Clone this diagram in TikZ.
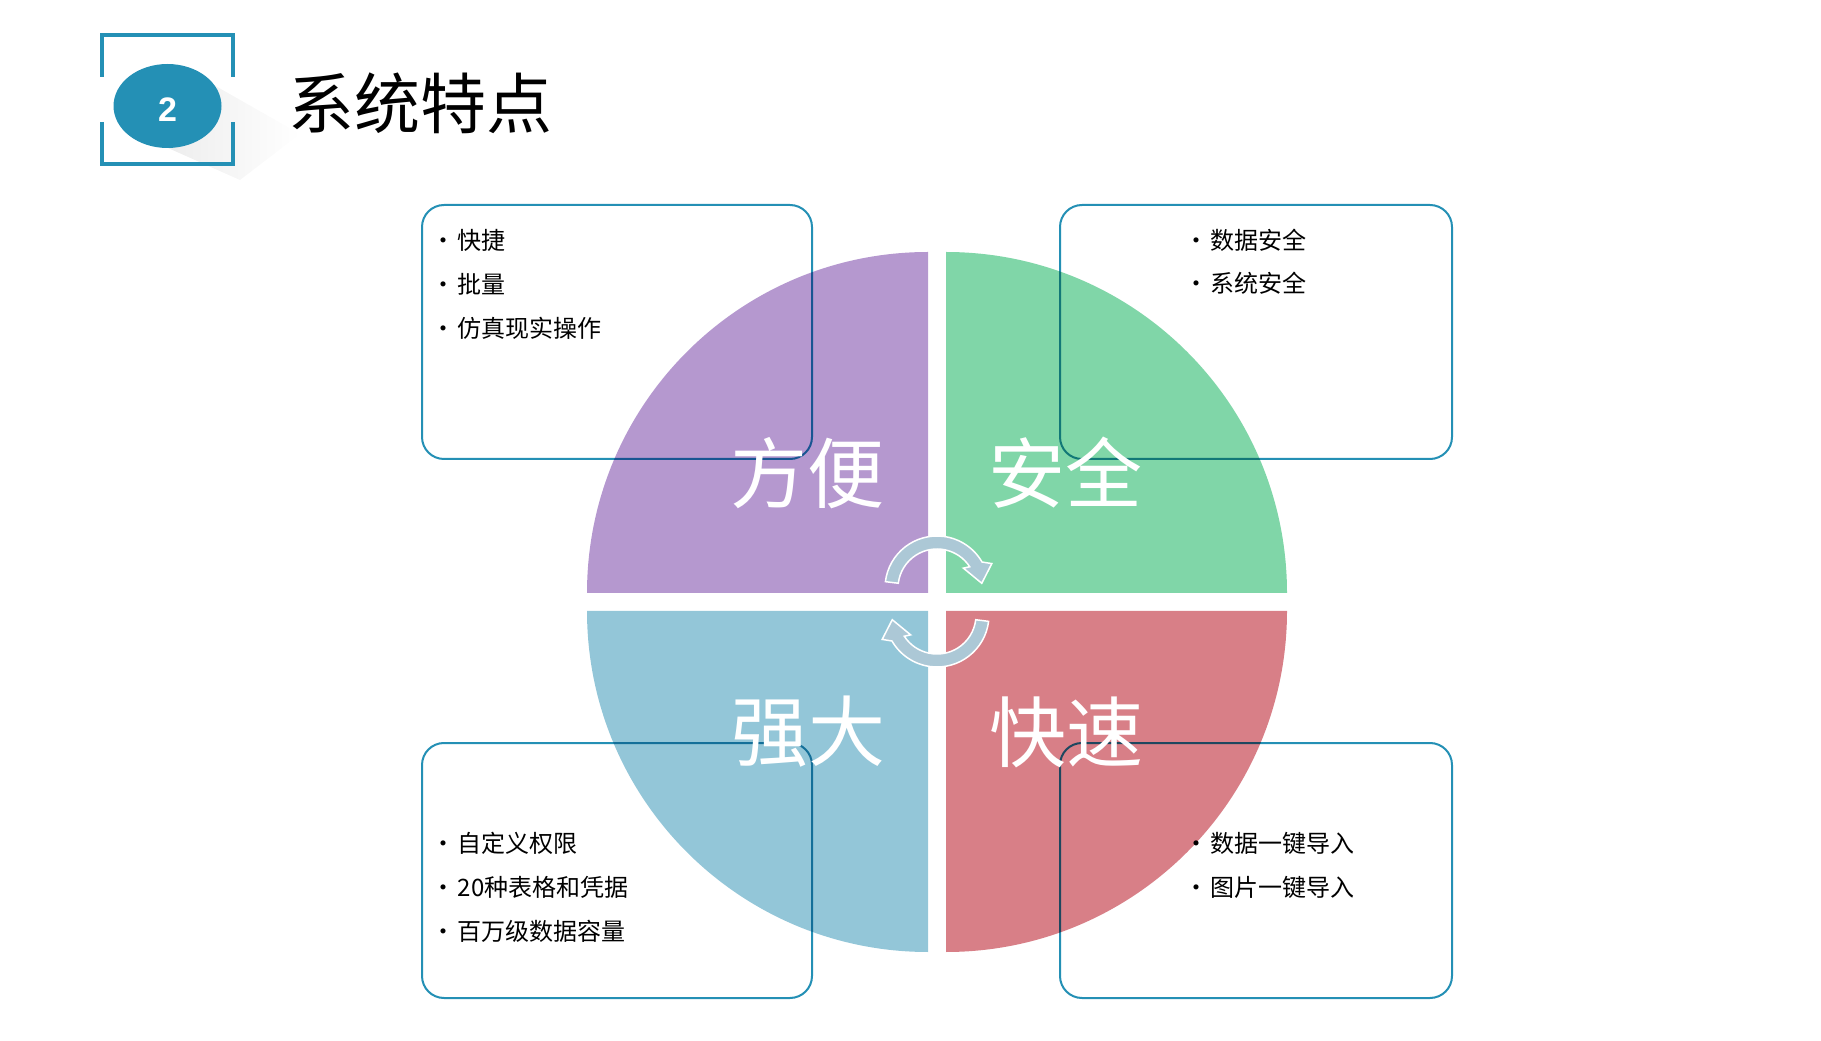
\documentclass[tikz,border=0pt]{standalone}
\usepackage{fontspec}
\newfontfamily\cjk{Noto Sans CJK SC}
\newfontfamily\numfont{Liberation Sans}
\definecolor{hdblue}{RGB}{36,144,181}
\definecolor{fbpurple}{RGB}{181,152,207}
\definecolor{fbgreen}{RGB}{128,214,168}
\definecolor{fbblue}{RGB}{147,198,216}
\definecolor{fbred}{RGB}{216,127,135}
\definecolor{fbarrow}{RGB}{172,200,214}
\tikzset{infobox/.style={draw=hdblue, line width=1pt, rounded corners=11pt, fill=white}}
\tikzset{item/.style={anchor=west, inner sep=0pt, font=\cjk\fontsize{12pt}{14pt}\selectfont}}
\tikzset{biglabel/.style={text=white, inner sep=0pt, font=\cjk\fontsize{38.5pt}{38.5pt}\selectfont}}
\tikzset{cyclearrow/.style={fill=fbarrow, draw=white, line width=0.75pt, line join=miter}}
\newcommand{\bul}{\makebox[8.75pt][l]{\hspace*{-4.5pt}•}}

\begin{document}
\begin{tikzpicture}[x=0.5pt,y=0.5pt]
      \useasboundingbox (0,0) rectangle (1821,1040);

      % header
      \shade [left color=black!7, right color=white] (205,960) -- (300,906) -- (240,860) -- (168,892) -- cycle;
      \draw [hdblue, line width=2pt] (102,963) -- (102,1005) -- (233,1005) -- (233,963);
      \draw [hdblue, line width=2pt] (102,918) -- (102,876) -- (233,876) -- (233,918);
      \fill [hdblue] (167.5,934) ellipse [x radius=54, y radius=42];
      \node [text=white, font=\numfont\bfseries\fontsize{17pt}{17pt}\selectfont] (num) at (167.5,930) {2};
      \node [font=\cjk\fontsize{33pt}{33pt}\selectfont] (title) at (420,937) {系统特点};

      % boxes
      \draw [infobox] (422,581) rectangle (812,835);
      \draw [infobox] (1060,581) rectangle (1452,835);
      \draw [infobox] (422,42) rectangle (812,297);
      \draw [infobox] (1060,42) rectangle (1452,297);

      \node [item] (tl1) at (440,800) {\bul 快捷};
      \node [item] (tl2) at (440,756) {\bul 批量};
      \node [item] (tl3) at (440,712) {\bul 仿真现实操作};
      \node [item] (tr1) at (1193,800) {\bul 数据安全};
      \node [item] (tr2) at (1193,757) {\bul 系统安全};
      \node [item] (bl1) at (440,197) {\bul 自定义权限};
      \node [item] (bl2) at (440,153) {\bul 20种表格和凭据};
      \node [item] (bl3) at (440,109) {\bul 百万级数据容量};
      \node [item] (br1) at (1193,197) {\bul 数据一键导入};
      \node [item] (br2) at (1193,153) {\bul 图片一键导入};

      % quarters
      \begin{scope}[blend mode=multiply]
        \fill [fbpurple] (928,447) -- (587,447) arc [start angle=180, end angle=90, radius=341] -- cycle;
        \fill [fbgreen] (946,447) -- (946,788) arc [start angle=90, end angle=0, radius=341] -- cycle;
        \fill [fbblue] (928,429) -- (587,429) arc [start angle=180, end angle=270, radius=341] -- cycle;
        \fill [fbred] (946,429) -- (1287,429) arc [start angle=0, end angle=-90, radius=341] -- cycle;
      \end{scope}

      \node [biglabel] (fb) at (807,567) {方便};
      \node [biglabel] (aq) at (1065,567) {安全};
      \node [biglabel] (qd) at (808,308) {强大};
      \node [biglabel] (ks) at (1066,308) {快速};

      % arrows
      \begin{scope}[shift={(937,452)}]
        \path [cyclearrow] (173:52) arc [start angle=173, end angle=30, radius=52] -- (24:60) -- (6:45) -- (37:33) -- (33:39) arc [start angle=33, end angle=173, radius=39] -- cycle;
      \end{scope}
      \begin{scope}[shift={(937,425)}, rotate=180]
        \path [cyclearrow] (173:52) arc [start angle=173, end angle=30, radius=52] -- (24:60) -- (6:45) -- (37:33) -- (33:39) arc [start angle=33, end angle=173, radius=39] -- cycle;
      \end{scope}
    \end{tikzpicture}
\end{document}
